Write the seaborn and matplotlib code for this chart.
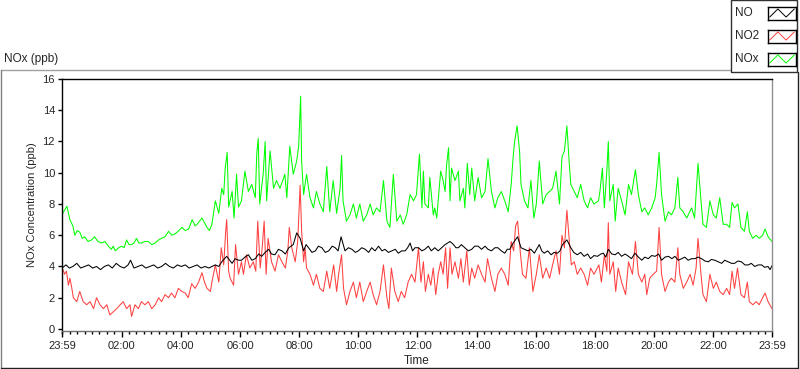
import matplotlib
matplotlib.use("Agg")
import matplotlib.pyplot as plt
from matplotlib.lines import Line2D
from matplotlib.patches import Rectangle
import seaborn as sns

sns.set_theme(style="ticks")
plt.rcParams["font.family"] = ["Liberation Sans", "DejaVu Sans"]
plt.rcParams["font.size"] = 8

# ── data (minutes after 23:59, ppb) ───────────────────────────────────────────

nox_min = [0, 5, 10, 16, 22, 26, 31, 36, 41, 46, 53, 60, 66, 73, 80, 87, 94, 100, 104, 108,
           115, 121, 126, 131, 136, 141, 146, 151, 156, 161, 168, 175, 182, 189, 196, 202, 209,
           216, 223, 230, 237, 243, 250, 257, 264, 270, 274, 279, 284, 289, 294, 299, 304, 311,
           318, 324, 328, 331, 335, 338, 345, 349, 354, 358, 364, 371, 378, 385, 392, 395, 398,
           401, 408, 412, 415, 422, 429, 435, 442, 452, 456, 462, 469, 476, 480, 484, 486, 490,
           496, 503, 510, 516, 523, 530, 537, 543, 550, 557, 564, 567, 570, 577, 584, 591, 597,
           604, 611, 618, 625, 631, 638, 645, 652, 659, 665, 672, 679, 686, 692, 699, 706, 713,
           719, 725, 730, 733, 736, 743, 746, 753, 756, 760, 763, 768, 773, 777, 780, 784, 787,
           790, 797, 804, 807, 814, 817, 822, 827, 831, 837, 844, 851, 858, 864, 871, 878, 884,
           891, 898, 905, 911, 915, 918, 923, 928, 931, 938, 945, 951, 957, 962, 968, 975, 982,
           989, 995, 1002, 1009, 1014, 1019, 1024, 1029, 1032, 1039, 1045, 1052, 1059, 1066,
           1072, 1079, 1088, 1091, 1096, 1100, 1105, 1108, 1111, 1118, 1122, 1128, 1135, 1142,
           1149, 1155, 1163, 1169, 1176, 1182, 1189, 1196, 1203, 1206, 1211, 1216, 1223, 1230,
           1236, 1243, 1249, 1253, 1260, 1267, 1277, 1283, 1290, 1296, 1300, 1307, 1314, 1321,
           1327, 1334, 1341, 1348, 1354, 1359, 1364, 1371, 1377, 1384, 1390, 1394, 1401, 1408,
           1414, 1421, 1426, 1432, 1440]
nox_ppb = [7.3, 7.6, 7.85, 7.0, 6.6, 6.0, 6.3, 6.2, 5.8, 5.9, 5.6, 5.7, 5.9, 5.6, 5.5, 5.6, 5.3, 5.1, 5.3, 5.0,
           5.2, 5.3, 5.2, 5.7, 5.4, 5.4, 5.5, 5.8, 5.5, 5.5, 5.6, 5.6, 5.4, 5.5, 5.7, 5.8, 5.9,
           6.25, 6.0, 6.1, 6.3, 6.5, 6.3, 6.4, 7.0, 6.6, 6.7, 6.9, 7.1, 6.8, 6.5, 6.3, 6.7, 8.2,
           7.4, 9.0, 8.6, 10.3, 11.3, 7.8, 8.8, 7.1, 9.9, 7.8, 8.2, 10.1, 8.8, 9.25, 8.4, 11.2, 12.2,
           8.0, 9.9, 12.0, 8.2, 11.4, 9.0, 9.5, 9.0, 9.9, 8.4, 11.7, 9.9, 10.75, 11.7, 14.9, 10.75, 8.6,
           9.9, 8.4, 7.75, 8.8, 8.0, 7.5, 10.4, 7.5, 9.5, 7.4, 9.0, 11.1, 8.2, 6.9, 7.3, 8.0, 7.1,
           8.0, 6.9, 7.3, 8.0, 7.3, 7.75, 7.5, 9.5, 6.9, 6.5, 9.9, 6.9, 7.3, 6.7, 7.3, 8.6, 8.2,
           8.6, 11.2, 7.75, 10.1, 8.0, 7.75, 9.7, 7.3, 7.75, 7.1, 8.2, 10.1, 9.5, 8.8, 10.5, 11.6, 8.2,
           10.3, 9.5, 10.1, 8.2, 9.0, 7.75, 10.6, 8.6, 10.3, 8.2, 9.7, 8.4, 8.8, 10.9, 8.8, 7.75, 8.4,
           8.8, 8.2, 7.5, 9.25, 11.0, 12.0, 13.0, 11.4, 9.25, 8.2, 7.75, 9.5, 7.1, 8.0, 10.75, 8.0, 8.6,
           8.8, 9.0, 10.1, 8.0, 11.0, 11.4, 13.0, 10.5, 9.25, 8.8, 8.4, 9.25, 8.2, 7.75,
           8.4, 8.0, 8.2, 8.8, 10.3, 7.75, 10.1, 12.0, 8.2, 9.25, 6.9, 9.0, 8.2, 7.3,
           9.25, 8.6, 10.2, 8.6, 7.5, 7.75, 7.3, 7.75, 8.4, 9.25, 11.3, 8.6, 6.9, 7.5,
           7.3, 7.75, 9.7, 7.75, 7.5, 7.1, 7.75, 7.1, 10.6, 8.2, 6.7, 6.5, 8.2, 7.3,
           7.1, 8.4, 6.7, 6.7, 6.5, 8.1, 7.75, 8.0, 6.5, 6.25, 7.5, 6.25, 5.8, 6.0,
           5.8, 6.0, 6.4, 5.9, 5.6]

no2_min = [0, 2, 5, 9, 13, 16, 20, 23, 30, 36, 43, 50, 57, 64, 70, 77, 84, 91, 97, 104, 111, 118,
           124, 131, 138, 141, 148, 155, 161, 168, 175, 182, 189, 196, 202, 209, 216, 222, 229,
           236, 243, 250, 256, 263, 270, 277, 284, 289, 294, 301, 304, 311, 318, 323, 328, 332,
           334, 338, 341, 348, 352, 358, 364, 368, 374, 381, 388, 393, 397, 402, 406, 410, 414,
           418, 425, 432, 439, 446, 453, 458, 461, 466, 473, 478, 483, 486, 490, 493, 496, 503,
           510, 516, 523, 530, 537, 543, 551, 557, 561, 567, 571, 577, 584, 591, 597, 604, 611,
           618, 625, 631, 638, 645, 652, 659, 663, 668, 675, 682, 688, 695, 702, 709, 716, 723,
           728, 733, 737, 743, 748, 753, 758, 763, 768, 773, 778, 782, 787, 791, 797, 804, 809,
           814, 821, 826, 831, 837, 844, 851, 858, 863, 871, 878, 884, 891, 898, 905, 911, 916,
           920, 924, 930, 934, 941, 948, 955, 962, 968, 975, 982, 989, 995, 1002, 1009, 1014,
           1019, 1024, 1029, 1033, 1039, 1045, 1052, 1059, 1066, 1072, 1079, 1089, 1094, 1100,
           1105, 1108, 1111, 1118, 1123, 1128, 1135, 1143, 1149, 1157, 1163, 1169, 1176, 1182,
           1186, 1192, 1199, 1206, 1211, 1216, 1223, 1230, 1236, 1243, 1249, 1253, 1260, 1267,
           1274, 1280, 1286, 1290, 1296, 1300, 1307, 1314, 1321, 1327, 1334, 1341, 1348, 1354,
           1359, 1364, 1370, 1377, 1384, 1390, 1394, 1401, 1408, 1414, 1421, 1426, 1432, 1440]
no2_ppb = [3.7, 3.8, 3.5, 3.7, 2.8, 3.25, 2.6, 2.0, 1.75, 2.4, 1.75, 1.55, 1.75, 1.3, 2.0, 1.55, 1.3, 1.55, 0.9, 1.1, 1.3, 1.55,
           1.75, 1.3, 1.55, 0.8, 1.55, 1.3, 1.75, 1.55, 1.75, 1.3, 1.55, 2.0, 1.75, 2.2, 2.0, 2.3, 2.0,
           2.6, 2.4, 2.3, 2.0, 2.9, 2.6, 3.0, 3.6, 3.0, 2.6, 2.4, 3.0, 4.1, 3.0, 5.2, 4.1, 6.25,
           7.0, 3.7, 3.25, 2.8, 5.4, 3.5, 4.3, 3.5, 4.75, 3.9, 4.3, 3.7, 6.9, 3.9, 5.2, 6.9, 3.5,
           5.8, 4.3, 3.7, 4.75, 4.3, 3.9, 5.0, 6.5, 5.2, 4.3, 5.6, 9.2, 6.25, 4.3, 5.2, 3.9, 3.5,
           2.8, 3.5, 2.6, 2.4, 3.7, 2.6, 4.1, 2.4, 3.5, 4.75, 2.6, 1.55, 2.4, 3.0, 2.0, 3.0, 1.75,
           2.4, 3.0, 2.2, 1.55, 2.4, 4.1, 2.0, 1.3, 3.9, 2.4, 1.75, 2.4, 2.0, 3.0, 3.5, 3.0, 5.2,
           3.0, 4.3, 2.4, 3.5, 2.8, 3.9, 2.2, 3.5, 4.3, 3.5, 5.2, 2.6, 5.2, 3.5, 4.3, 3.25, 4.5,
           3.0, 5.0, 2.8, 3.9, 3.25, 4.1, 3.5, 3.0, 4.5, 3.25, 2.4, 3.5, 3.9, 3.5, 2.8, 5.6, 5.0,
           6.6, 6.9, 4.75, 3.5, 3.25, 5.2, 2.4, 3.5, 4.75, 3.25, 3.9, 3.25, 4.1, 5.0, 3.5, 6.0,
           5.2, 7.6, 5.6, 4.1, 4.3, 3.5, 3.9, 3.5, 2.8, 3.9, 3.5, 4.1, 3.0, 4.75,
           3.7, 6.8, 3.5, 4.3, 2.4, 3.9, 3.0, 2.2, 4.3, 3.5, 5.6, 3.5, 3.0, 3.5,
           2.2, 3.25, 3.5, 3.7, 6.5, 3.5, 2.4, 3.0, 3.25, 3.0, 5.2, 3.5, 2.6, 3.0,
           3.5, 2.8, 3.9, 5.8, 3.5, 2.2, 1.75, 3.5, 2.6, 3.0, 2.4, 2.2, 2.6, 2.2,
           3.7, 2.6, 3.9, 2.2, 2.0, 3.0, 1.75, 1.55, 1.75, 1.55, 2.0, 2.3, 1.75, 1.3]

no_min = [0, 8, 15, 22, 30, 38, 46, 54, 62, 70, 78, 86, 94, 102, 110, 118, 126, 134, 139, 146,
          154, 162, 170, 178, 186, 194, 202, 210, 218, 226, 234, 242, 250, 258, 266, 274, 282,
          290, 298, 304, 311, 318, 324, 334, 345, 351, 358, 364, 371, 378, 385, 392, 399, 405,
          412, 419, 425, 432, 439, 446, 453, 460, 469, 476, 483, 490, 495, 500, 507, 514, 520,
          527, 534, 541, 548, 554, 560, 566, 574, 581, 588, 595, 601, 608, 615, 622, 628, 635,
          642, 649, 655, 662, 669, 676, 682, 689, 696, 701, 706, 711, 716, 723, 730, 736, 743,
          749, 756, 763, 770, 777, 787, 794, 799, 804, 810, 817, 824, 831, 837, 844, 851, 858,
          864, 871, 878, 884, 891, 898, 903, 908, 915, 924, 931, 938, 945, 951, 958, 968, 973,
          978, 985, 992, 998, 1005, 1010, 1015, 1024, 1032, 1038, 1045, 1052, 1059, 1066, 1072,
          1079, 1086, 1093, 1098, 1103, 1108, 1115, 1122, 1128, 1135, 1142, 1149, 1155, 1162,
          1169, 1176, 1182, 1189, 1196, 1203, 1210, 1216, 1223, 1230, 1237, 1243, 1250, 1257,
          1263, 1270, 1277, 1284, 1290, 1297, 1304, 1311, 1317, 1324, 1331, 1338, 1344, 1351,
          1358, 1364, 1371, 1378, 1385, 1392, 1398, 1405, 1412, 1419, 1425, 1432, 1436, 1440]
no_ppb = [3.9, 4.1, 3.9, 4.0, 4.2, 3.9, 4.0, 4.1, 3.9, 4.0, 3.8, 4.0, 4.1, 3.9, 4.2, 4.0, 3.9, 4.1, 4.4, 3.9,
          4.0, 4.1, 3.9, 4.0, 4.1, 3.9, 4.0, 4.2, 4.0, 3.9, 4.1, 4.0, 4.1, 3.9, 4.0, 4.1, 3.9,
          4.0, 3.9, 4.0, 4.1, 4.0, 4.3, 4.65, 4.2, 4.5, 4.4, 4.4, 4.6, 4.75, 4.4, 4.5, 4.8, 4.65,
          4.9, 5.1, 4.8, 4.75, 5.1, 5.0, 4.8, 5.2, 5.4, 6.15, 5.8, 5.0, 5.4, 5.2, 4.9, 5.0, 5.3,
          5.2, 4.9, 5.0, 5.3, 5.2, 5.0, 5.9, 5.0, 5.2, 5.1, 4.9, 5.0, 5.2, 5.1, 4.9, 5.2, 5.0,
          5.3, 5.0, 5.1, 4.9, 5.0, 5.1, 4.85, 5.0, 5.0, 5.2, 5.5, 5.0, 5.2, 5.2, 5.0, 5.1, 5.3,
          5.0, 5.2, 5.0, 5.2, 5.4, 5.6, 5.4, 5.2, 5.2, 5.4, 5.2, 5.0, 5.1, 5.3, 5.3, 5.1, 5.3,
          5.1, 5.0, 5.2, 5.2, 5.0, 4.85, 5.1, 5.1, 5.5, 5.9, 5.2, 5.1, 5.0, 5.1, 4.85, 5.4, 5.0,
          4.85, 5.0, 4.75, 4.9, 4.85, 5.0, 5.4, 5.7, 5.2, 4.9, 4.75, 4.9, 4.65, 4.8, 4.5,
          4.7, 4.65, 4.8, 4.85, 4.6, 5.1, 4.8, 4.75, 4.9, 4.65, 4.8, 4.65, 4.5, 4.85,
          4.6, 4.4, 4.6, 4.5, 4.7, 4.65, 4.8, 4.4, 4.6, 4.65, 4.5, 4.65, 4.4, 4.5,
          4.6, 4.4, 4.5, 4.5, 4.6, 4.5, 4.35, 4.3, 4.45, 4.4, 4.3, 4.2, 4.4, 4.3,
          4.2, 4.2, 4.35, 4.3, 4.1, 4.1, 4.2, 4.0, 4.1, 4.1, 3.95, 4.0, 3.8, 4.05]

tick_min = [0, 121, 241, 361, 481, 601, 721, 841, 961, 1081, 1201, 1321, 1440]
tick_labels = ["23:59", "02:00", "04:00", "06:00", "08:00", "10:00", "12:00",
               "14:00", "16:00", "18:00", "20:00", "22:00", "23:59"]
y_ticks = [0, 2, 4, 6, 8, 10, 12, 14, 16]

series = [("NO", no_min, no_ppb, "black"),
          ("NO2", no2_min, no2_ppb, "#ff4040"),
          ("NOx", nox_min, nox_ppb, "#00ff00")]

# ── figure ────────────────────────────────────────────────────────────────────

W, H = 800, 369
fig = plt.figure(figsize=(W / 100, H / 100), dpi=100)
fig.patch.set_facecolor("white")


def fx(px):
    return px / W


def fy(py):
    return 1 - py / H


# sunken outer frame
fig.add_artist(Line2D([fx(0.5), fx(772)], [fy(69.5), fy(69.5)], color="#a0a0a0", lw=1))
fig.add_artist(Line2D([fx(0.5), fx(0.5)], [fy(69.5), fy(368)], color="#808080", lw=1))
fig.add_artist(Line2D([fx(0.5), fx(797.5)], [fy(367.5), fy(367.5)], color="#202020", lw=1))
fig.add_artist(Line2D([fx(797.5), fx(797.5)], [fy(72), fy(368)], color="#202020", lw=1))

ax = fig.add_axes([fx(62), fy(331), fx(772 - 62), (331 - 79) / H])
for name, t, v, col in reversed(series):
    sns.lineplot(x=t, y=v, ax=ax, color=col, lw=0.75, estimator=None, sort=False)

ax.set_xlim(0, 1440)
ax.set_ylim(-0.13, 16)
ax.set_xticks(tick_min)
ax.set_xticklabels(tick_labels)
ax.set_xticks(range(1, 1440, 15), minor=True)
ax.set_yticks(y_ticks)
ax.tick_params(axis="x", which="major", length=4, width=1, pad=3, labelsize=8, color="black")
ax.tick_params(axis="x", which="minor", length=2.5, width=1, color="black")
ax.tick_params(axis="y", which="major", length=3, width=1, pad=2, labelsize=8, color="black")
for side, col in [("left", "black"), ("top", "black"), ("bottom", "#707070"), ("right", "#909090")]:
    ax.spines[side].set_visible(True)
    ax.spines[side].set_color(col)
    ax.spines[side].set_linewidth(1)
ax.set_xlabel("Time", fontsize=8.5, labelpad=3)
ax.set_ylabel("NOx Concentration (ppb)", fontsize=8, labelpad=4)

fig.text(fx(4), fy(59), "NOx (ppb)", fontsize=8.5, va="center", ha="left")

# legend panel, drawn by hand like the LabVIEW plot legend
fig.add_artist(Rectangle((fx(731), fy(72)), fx(797 - 731), (72 - 0) / H,
                         transform=fig.transFigure, facecolor="white",
                         edgecolor="#303030", lw=1, zorder=5))
rows = [13, 36, 59]
for (name, _, _, col), yc in zip(series, rows):
    fig.text(fx(735), fy(yc), name, fontsize=8.5, va="center", ha="left", zorder=6)
    lax = fig.add_axes([fx(768), fy(yc + 6.5), fx(28), 13 / H], zorder=6)
    sns.lineplot(x=[0, 1, 2, 3], y=[0, 1, 0, 1], ax=lax, color=col, lw=0.7)
    lax.set_xlim(-0.2, 3.2)
    lax.set_ylim(-0.3, 1.3)
    lax.set_xticks([])
    lax.set_yticks([])
    lax.set_xlabel("")
    lax.set_ylabel("")
    for s in lax.spines.values():
        s.set_visible(True)
        s.set_color("black")
        s.set_linewidth(1)

fig.savefig("out.png", dpi=100)
